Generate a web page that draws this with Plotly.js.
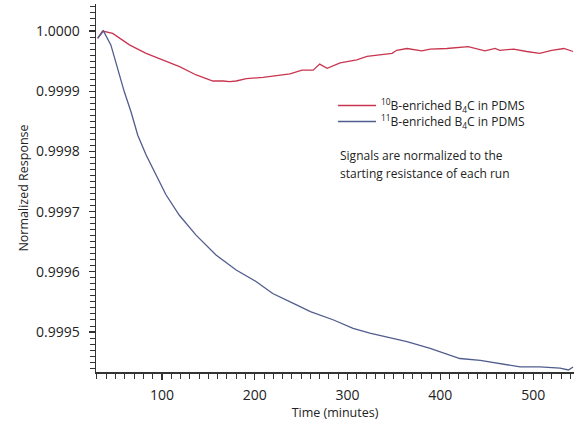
<!DOCTYPE html>
<html>
<head>
<meta charset="utf-8">
<script src="https://cdn.plot.ly/plotly-3.0.1.min.js"></script>
<style>html,body{margin:0;padding:0;background:#fff;}#chart{width:574px;height:421px;}</style>
</head>
<body>
<div id="chart"></div>
<script>
// Time in minutes and normalized response
const timeB10 = [30.8, 36, 47, 65, 83, 101, 119, 137, 155, 166, 173, 180, 191, 209, 223, 238, 251, 263, 270, 278, 292, 310, 321, 335, 348, 353, 364, 380, 389, 407, 430, 448, 459, 464, 479, 493, 507, 520, 533, 543];
const respB10 = [0.999988, 1.0, 0.999996, 0.999977, 0.999963, 0.999952, 0.999941, 0.999927, 0.999917, 0.999917, 0.999916, 0.999917, 0.999921, 0.999923, 0.999926, 0.999929, 0.999935, 0.999935, 0.999945, 0.999938, 0.999947, 0.999952, 0.999958, 0.99996, 0.999963, 0.999968, 0.999971, 0.999967, 0.99997, 0.999971, 0.999974, 0.999967, 0.999971, 0.999968, 0.99997, 0.999966, 0.999963, 0.999968, 0.999971, 0.999966];

const timeB11 = [30.8, 37, 45, 52, 59.5, 66.7, 74, 83, 93.7, 104.4, 118.8, 136.8, 158.3, 180, 201.4, 219.4, 245, 260, 285, 306, 324, 346, 364, 389, 421, 443, 461, 486, 507, 529, 538, 543];
const respB11 = [0.999988, 1.0, 0.999977, 0.999938, 0.999899, 0.999866, 0.999827, 0.999794, 0.999761, 0.999728, 0.999694, 0.999661, 0.999628, 0.999603, 0.999584, 0.999564, 0.999545, 0.999534, 0.99952, 0.999506, 0.999498, 0.99949, 0.999484, 0.999473, 0.999456, 0.999453, 0.999448, 0.999442, 0.999442, 0.99944, 0.999437, 0.999442];

const seriesNames = ['<sup>10</sup>B-enriched B<sub>4</sub>C in PDMS', '<sup>11</sup>B-enriched B<sub>4</sub>C in PDMS'];
const xTickVals = [100, 200, 300, 400, 500];
const yTickVals = [0.9995, 0.9996, 0.9997, 0.9998, 0.9999, 1.0];
const yTickText = ['0.9995', '0.9996', '0.9997', '0.9998', '0.9999', '1.0000'];
const noteLines = ['Signals are normalized to the', 'starting resistance of each run'];

const FONT = '"Open Sans", "Noto Sans", sans-serif';

const traces = [
  {x: timeB10, y: respB10, type: 'scatter', mode: 'lines', name: seriesNames[0], legend: 'legend',
   line: {color: '#c9354f', width: 1.3}},
  {x: timeB11, y: respB11, type: 'scatter', mode: 'lines', name: seriesNames[1], legend: 'legend2',
   line: {color: '#505d8e', width: 1.3}}
];

const axisCommon = {
  showgrid: false, zeroline: false, showline: true, linecolor: '#333', linewidth: 1.5,
  ticks: 'outside', ticklen: 6, tickwidth: 1.2, tickcolor: '#333',
  tickfont: {family: FONT, size: 14, color: '#222'}
};

const legendCommon = {xanchor: 'left', yanchor: 'top', bgcolor: 'rgba(0,0,0,0)', itemwidth: 38,
  font: {family: FONT, size: 12, color: '#222'}};

const layout = {
  width: 574, height: 421,
  margin: {l: 96, r: 0, t: 4, b: 49},
  paper_bgcolor: '#fff', plot_bgcolor: '#fff',
  font: {family: FONT, color: '#222'},
  showlegend: true,
  legend: Object.assign({}, legendCommon, {x: (333 - 96) / 478, y: (372 - 91) / 368}),
  legend2: Object.assign({}, legendCommon, {x: (333 - 96) / 478, y: (372 - 107) / 368}),
  xaxis: Object.assign({}, axisCommon, {
    range: [29, 544], tickvals: xTickVals, ticklabelstandoff: 4,
    minor: {dtick: 10, ticks: 'outside', ticklen: 5, tickwidth: 1, tickcolor: '#333'},
    title: {text: 'Time (minutes)', font: {family: FONT, size: 12.5, color: '#222'}, standoff: 6}
  }),
  yaxis: Object.assign({}, axisCommon, {
    range: [0.9994336, 1.0000449], tickvals: yTickVals, ticktext: yTickText, ticklabelstandoff: 6,
    minor: {dtick: 0.00001, tick0: 0.9995, ticks: 'outside', ticklen: 5, tickwidth: 1, tickcolor: '#333'},
    title: {text: 'Normalized Response', font: {family: FONT, size: 12.5, color: '#222'}, standoff: 4}
  }),
  annotations: [
    {xref: 'paper', yref: 'paper', x: (338 - 96) / 478, y: (372 - 155) / 368, xanchor: 'left', yanchor: 'middle',
     text: noteLines[0], showarrow: false, font: {family: FONT, size: 12, color: '#222'}},
    {xref: 'paper', yref: 'paper', x: (338 - 96) / 478, y: (372 - 173) / 368, xanchor: 'left', yanchor: 'middle',
     text: noteLines[1], showarrow: false, font: {family: FONT, size: 12, color: '#222'}}
  ]
};

Plotly.newPlot('chart', traces, layout, {displayModeBar: false, staticPlot: true});
</script>
</body>
</html>
